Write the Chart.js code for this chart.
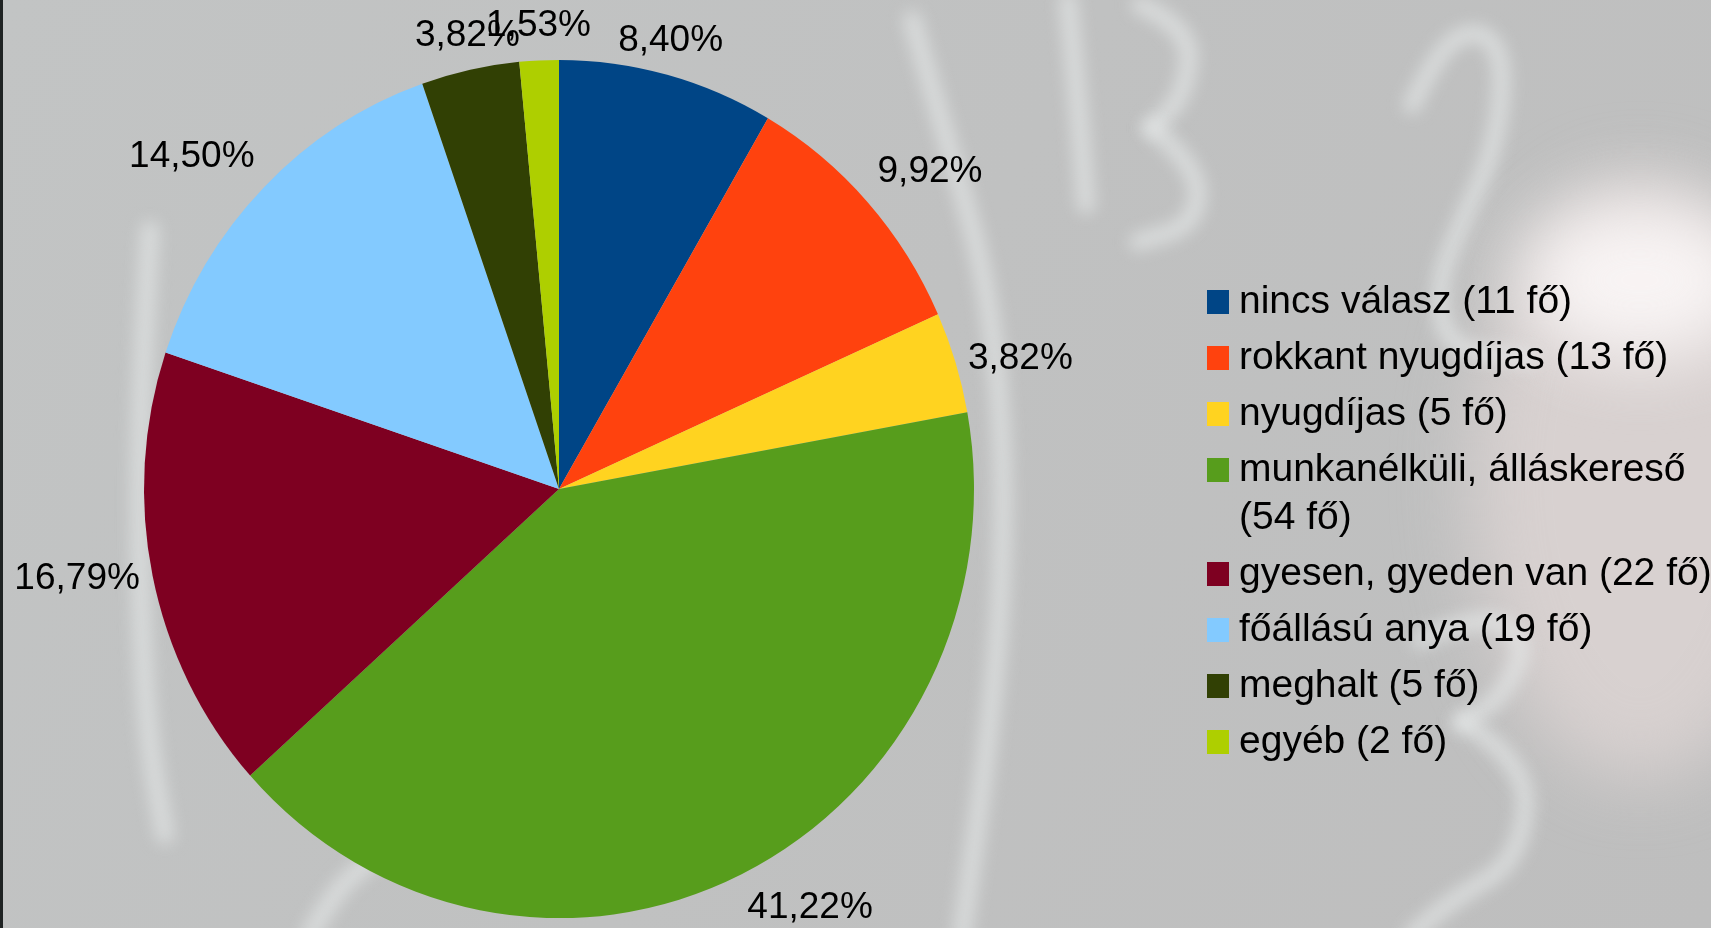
<!DOCTYPE html>
<html lang="hu">
<head>
<meta charset="utf-8">
<title>Megoszlás</title>
<script src="https://cdn.jsdelivr.net/npm/chart.js@4.4.1/dist/chart.umd.min.js"></script>
<style>
  html, body { margin: 0; padding: 0; background: #c0c2c1; overflow: hidden; }
  #wrap { width: 1711px; height: 928px; }
  canvas { display: block; }
</style>
</head>
<body>
<div id="wrap"><canvas id="pieCanvas" width="1711" height="928"></canvas></div>
<script>
// Data
const categories = [
  'nincs válasz',
  'rokkant nyugdíjas',
  'nyugdíjas',
  'munkanélküli, álláskereső',
  'gyesen, gyeden van',
  'főállású anya',
  'meghalt',
  'egyéb'
];
const persons = [11, 13, 5, 54, 22, 19, 5, 2];
const percentLabels = ['8,40%', '9,92%', '3,82%', '41,22%', '16,79%', '14,50%', '3,82%', '1,53%'];
const sliceColors = ['#004586', '#ff420e', '#ffd320', '#579d1c', '#7e0021', '#83caff', '#314004', '#aecf00'];

const FONT = '"Liberation Sans", Arial, sans-serif';
const stretchY = 1.034;   // the pie in the picture is a little taller than wide
const labelGap = 13;

// chalkboard photo behind the chart (only decoration)
const chalkStrokes = [
  [[912, 20], [945, 135], [985, 270], [1003, 420], [1003, 580], [990, 730], [962, 935]],
  [[1068, 0], [1078, 100], [1086, 205]],
  [[1140, 5], [1192, 28], [1185, 95], [1152, 128]],
  [[1152, 128], [1200, 168], [1195, 225], [1138, 242]],
  [[1412, 105], [1440, 45], [1482, 28], [1505, 62], [1495, 150], [1460, 225], [1437, 285], [1447, 350], [1530, 358]],
  [[1420, 640], [1480, 612], [1530, 640], [1500, 700], [1462, 722]],
  [[1462, 722], [1530, 762], [1520, 860], [1452, 900], [1412, 935]],
  [[150, 230], [140, 400], [140, 600], [148, 740], [165, 835]],
  [[310, 935], [335, 890], [372, 860]]
];

function paintBackdrop(ctx, w, h) {
  ctx.save();
  const base = ctx.createLinearGradient(0, 0, w, h);
  base.addColorStop(0, '#c2c4c4');
  base.addColorStop(1, '#bebebe');
  ctx.fillStyle = base;
  ctx.fillRect(0, 0, w, h);

  // warm blur of a hand on the right
  ctx.filter = 'blur(35px)';
  ctx.fillStyle = 'rgba(226, 216, 215, 0.7)';
  ctx.beginPath();
  ctx.ellipse(1640, 480, 170, 300, 0, 0, Math.PI * 2);
  ctx.fill();
  ctx.fillStyle = 'rgba(250, 246, 246, 0.95)';
  ctx.beginPath();
  ctx.ellipse(1640, 280, 120, 80, 0, 0, Math.PI * 2);
  ctx.fill();

  // chalk lines
  ctx.filter = 'blur(8px)';
  ctx.strokeStyle = 'rgba(234, 236, 236, 0.6)';
  ctx.lineWidth = 18;
  ctx.lineCap = 'round';
  ctx.lineJoin = 'round';
  chalkStrokes.forEach(pts => {
    ctx.beginPath();
    ctx.moveTo(pts[0][0], pts[0][1]);
    for (let i = 1; i < pts.length - 1; i++) {
      const mx = (pts[i][0] + pts[i + 1][0]) / 2;
      const my = (pts[i][1] + pts[i + 1][1]) / 2;
      ctx.quadraticCurveTo(pts[i][0], pts[i][1], mx, my);
    }
    const last = pts[pts.length - 1];
    ctx.lineTo(last[0], last[1]);
    ctx.stroke();
  });
  ctx.filter = 'none';

  ctx.fillStyle = '#1f2323';
  ctx.fillRect(0, 0, 3, h);
  ctx.restore();
}

// which side of the anchor the label box sits on (LibreOffice style)
function labelSide(deg) {
  if (deg <= 22.5) return [1, 0];
  if (deg < 67.5) return [1, -1];
  if (deg < 112.5) return [0, -1];
  if (deg <= 157.5) return [-1, -1];
  if (deg <= 202.5) return [-1, 0];
  if (deg < 247.5) return [-1, 1];
  if (deg < 292.5) return [0, 1];
  if (deg < 337.5) return [1, 1];
  return [1, 0];
}

function wrapWords(ctx, text, maxWidth) {
  const words = text.split(' ');
  const lines = [];
  let line = '';
  words.forEach(word => {
    const test = line ? line + ' ' + word : word;
    if (line && ctx.measureText(test).width > maxWidth) {
      lines.push(line);
      line = word;
    } else {
      line = test;
    }
  });
  if (line) lines.push(line);
  return lines;
}

const backdropPlugin = {
  id: 'backdrop',
  beforeDraw(chart) {
    paintBackdrop(chart.ctx, chart.width, chart.height);
  }
};

const ovalPlugin = {
  id: 'oval',
  beforeDatasetsDraw(chart) {
    const arc = chart.getDatasetMeta(0).data[0];
    const ctx = chart.ctx;
    ctx.save();
    ctx.translate(arc.x, arc.y);
    ctx.scale(1, stretchY);
    ctx.translate(-arc.x, -arc.y);
  },
  afterDatasetsDraw(chart) {
    chart.ctx.restore();
  }
};

const pieLabelPlugin = {
  id: 'pieLabels',
  afterDraw(chart) {
    const ctx = chart.ctx;
    const arcs = chart.getDatasetMeta(0).data;
    ctx.save();
    ctx.font = '37px ' + FONT;
    ctx.fillStyle = '#000000';
    ctx.textAlign = 'center';
    ctx.textBaseline = 'middle';
    arcs.forEach((arc, i) => {
      const mid = (arc.startAngle + arc.endAngle) / 2;
      const r = arc.outerRadius + labelGap;
      const ax = arc.x + r * Math.cos(mid);
      const ay = arc.y + r * stretchY * Math.sin(mid);
      let deg = (-mid * 180 / Math.PI) % 360;
      if (deg < 0) deg += 360;
      const side = labelSide(deg);
      const w = ctx.measureText(percentLabels[i]).width;
      const h = 37 * 1.15;
      ctx.fillText(percentLabels[i], ax + side[0] * w / 2, ay + side[1] * h / 2);
    });
    ctx.restore();
  }
};

const legendPlugin = {
  id: 'sideLegend',
  afterDraw(chart) {
    const ctx = chart.ctx;
    const boxX = 1207, textX = 1239, boxW = 22, boxH = 24;
    const firstY = 302, rowStep = 56, lineStep = 48, maxTextW = 485;
    ctx.save();
    ctx.font = '39px ' + FONT;
    ctx.textAlign = 'left';
    ctx.textBaseline = 'middle';
    let y = firstY;
    categories.forEach((name, i) => {
      const text = name + ' (' + persons[i] + ' fő)';
      const lines = wrapWords(ctx, text, maxTextW);
      ctx.fillStyle = sliceColors[i];
      ctx.fillRect(boxX, y - boxH / 2, boxW, boxH);
      ctx.fillStyle = '#000000';
      lines.forEach((ln, k) => ctx.fillText(ln, textX, y + k * lineStep));
      y += (lines.length - 1) * lineStep + rowStep;
    });
    ctx.restore();
  }
};

const ctx = document.getElementById('pieCanvas').getContext('2d');
const chart = new Chart(ctx, {
  type: 'pie',
  data: {
    labels: categories,
    datasets: [{
      data: persons,
      backgroundColor: sliceColors,
      borderWidth: 0,
      hoverBorderWidth: 0,
      hoverOffset: 0,
      clip: false
    }]
  },
  options: {
    responsive: false,
    animation: false,
    events: [],
    layout: {
      // pie centre at (559, 489), radius 415
      padding: { left: 144, right: 737, top: 74, bottom: 24 }
    },
    plugins: {
      legend: { display: false },
      tooltip: { enabled: false }
    }
  },
  plugins: [backdropPlugin, ovalPlugin, pieLabelPlugin, legendPlugin]
});
</script>
</body>
</html>
